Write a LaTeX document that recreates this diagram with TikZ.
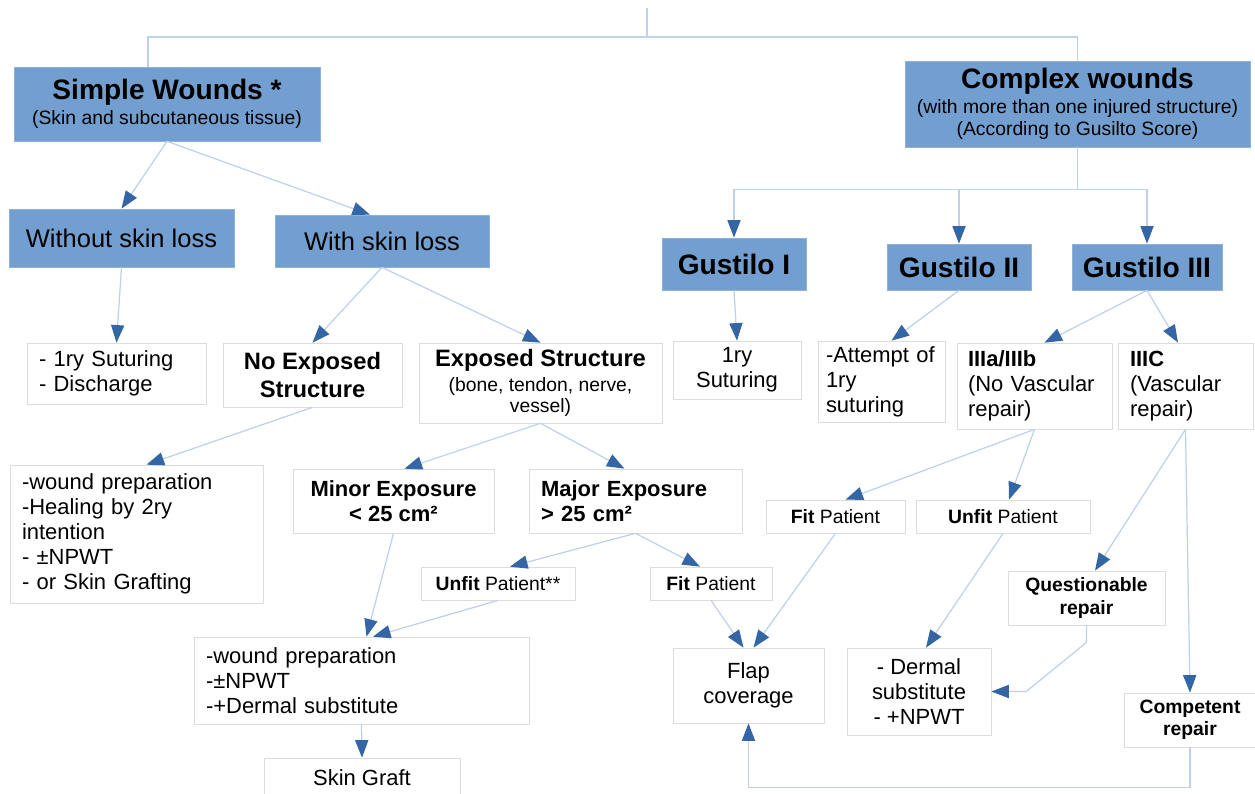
\documentclass[tikz,border=0pt]{standalone}
\usepackage{fontspec}
\setmainfont{Liberation Sans}
\usetikzlibrary{arrows.meta}
\definecolor{headblue}{HTML}{729FCF}
\definecolor{headedge}{HTML}{8DB1DB}
\definecolor{celledge}{HTML}{DCDCDC}
\definecolor{linkblue}{HTML}{BFD0EA}
\definecolor{tipblue}{HTML}{3465A4}
\newcommand{\smalltxt}[1]{{\mdseries\fontsize{11}{13}\selectfont #1}}

\begin{document}
\begin{tikzpicture}[
    x=0.02cm, y=-0.02cm,
    head/.style={draw=headedge, fill=headblue, inner sep=0pt, align=center, font=\fontsize{16}{16}\selectfont\bfseries},
    branch/.style={draw=headedge, fill=headblue, inner sep=0pt, align=center, font=\fontsize{14.5}{17}\selectfont},
    cell/.style={draw=celledge, fill=white, inner sep=0pt, align=center, font=\fontsize{12.5}{14.3}\selectfont},
    lcell/.style={cell, inner xsep=0.24cm, align=left},
    tag/.style={cell, font=\fontsize{11}{12.7}\selectfont},
    link/.style={draw=linkblue, line width=0.7pt},
    arrow/.style={link, -{Triangle[length=10pt, width=7.5pt, color=tipblue]}}
]
\useasboundingbox (0,0) rectangle (1255,794);

% simple wounds side
\node[head, minimum width=6.12cm, minimum height=1.48cm] (simple) at (167,104) {Simple Wounds *\\[-1.5pt]\smalltxt{(Skin and subcutaneous tissue)}};
\node[branch, minimum width=4.5cm, minimum height=1.16cm] (without) at (121.5,238) {Without skin loss};
\node[branch, minimum width=4.28cm, minimum height=1.04cm] (withloss) at (382,241) {With skin loss};
\node[lcell, text width=3.10cm, minimum height=1.22cm] (suture) at (116.5,373.5) {- 1ry Suturing\\- Discharge};
\node[cell, font=\fontsize{13.5}{15.5}\selectfont\bfseries, minimum width=3.58cm, minimum height=1.28cm] (noexp) at (312.5,375) {No Exposed\\Structure};
\node[cell, minimum width=4.86cm, minimum height=1.6cm] (exp) at (540.5,383) {{\bfseries\fontsize{13.5}{15.5}\selectfont Exposed Structure}\\\smalltxt{(bone, tendon, nerve,}\\[-2pt]\smalltxt{vessel)}};
\node[lcell, text width=4.58cm, minimum height=2.76cm] (prepA) at (136.5,534) {-wound preparation\\-Healing by 2ry\\intention\\- ±NPWT\\- or Skin Grafting};
\node[cell, font=\fontsize{12.5}{14.3}\selectfont\bfseries, minimum width=4.02cm, minimum height=1.28cm] (minor) at (393.5,501) {Minor Exposure\\< 25 cm²};
\node[lcell, font=\fontsize{12.5}{14.3}\selectfont\bfseries, text width=3.78cm, minimum height=1.28cm] (major) at (635.5,501) {Major Exposure\\> 25 cm²};
\node[tag, minimum width=3.08cm, minimum height=0.66cm] (unfitA) at (498,583.5) {\textbf{Unfit} Patient**};
\node[tag, minimum width=2.44cm, minimum height=0.66cm] (fitA) at (711,583.5) {\textbf{Fit} Patient};
\node[lcell, text width=6.22cm, minimum height=1.74cm] (prepB) at (361.5,680.5) {-wound preparation\\-±NPWT\\-+Dermal substitute};
\node[cell, minimum width=3.92cm, minimum height=0.8cm] (graft) at (362,778) {Skin Graft};

% complex wounds side
\node[head, minimum width=6.9cm, minimum height=1.72cm] (complex) at (1077.5,104) {Complex wounds\\[-1.5pt]\smalltxt{(with more than one injured structure)}\\[-3.5pt]\smalltxt{(According to Gusilto Score)}};
\node[head, minimum width=2.88cm, minimum height=1.04cm] (gusI) at (734,264) {Gustilo I};
\node[head, minimum width=2.88cm, minimum height=0.92cm] (gusII) at (959,267) {Gustilo II};
\node[head, minimum width=3.0cm, minimum height=0.92cm] (gusIII) at (1147,267) {Gustilo III};
\node[cell, minimum width=2.56cm, minimum height=1.16cm] (suture2) at (737,370) {1ry\\Suturing};
\node[lcell, inner xsep=0.16cm, text width=2.22cm, minimum height=1.62cm] (attempt) at (881.5,381.5) {-Attempt of\\1ry\\suturing};
\node[lcell, inner xsep=0.22cm, text width=2.66cm, minimum height=1.72cm] (threeab) at (1034.5,386) {\textbf{IIIa/IIIb}\\(No Vascular\\repair)};
\node[lcell, text width=2.22cm, minimum height=1.72cm] (threec) at (1185.5,386) {\textbf{IIIC}\\(Vascular\\repair)};
\node[tag, minimum width=2.78cm, minimum height=0.66cm] (fitB) at (835.5,516.5) {\textbf{Fit} Patient};
\node[tag, minimum width=3.48cm, minimum height=0.66cm] (unfitB) at (1003,516.5) {\textbf{Unfit} Patient};
\node[tag, font=\fontsize{11}{12.7}\selectfont\bfseries, minimum width=3.14cm, minimum height=1.08cm] (question) at (1086.5,598) {Questionable\\repair};
\node[tag, font=\fontsize{11}{12.7}\selectfont\bfseries, minimum width=2.64cm, minimum height=1.08cm] (competent) at (1190,720) {Competent\\repair};
\node[cell, minimum width=3.02cm, minimum height=1.5cm] (flap) at (748.5,685.5) {Flap\\coverage};
\node[cell, minimum width=2.88cm, minimum height=1.74cm] (dermal) at (919,691.5) {- Dermal\\substitute\\- +NPWT};

% top split
\coordinate (root) at (647,8);
\coordinate (split) at (647,37);
\draw[link] (root) -- (split);
\draw[link] ([xshift=-0.38cm]simple.north) |- (split) -| (complex.north);

% simple branch connectors
\draw[arrow] (simple.south) -- (without.north);
\draw[arrow] (simple.south) -- ([xshift=-0.24cm]withloss.north);
\draw[arrow] (without.south) -- (suture.north);
\draw[arrow] (withloss.south) -- (noexp.north);
\draw[arrow] (withloss.south) -- (exp.north);
\draw[arrow] (noexp.south) -- ([xshift=0.2cm]prepA.north);
\draw[arrow] (exp.south) -- ([xshift=0.22cm]minor.north);
\draw[arrow] (exp.south) -- ([xshift=-0.22cm]major.north);
\draw[arrow] (major.south) -- ([xshift=0.24cm]unfitA.north);
\draw[arrow] (major.south) -- ([xshift=-0.22cm]fitA.north);
\draw[arrow] (minor.south) -- ([xshift=0.1cm]prepB.north);
\draw[arrow] (unfitA.south) -- ([xshift=0.23cm]prepB.north);
\draw[arrow] (prepB.south) -- (graft.north);

% complex branch connectors
\draw[link] (complex.south) -- ++(0,42) coordinate (fork);
\draw[arrow] (fork) -| (gusI.north);
\draw[arrow] (fork) -| (gusIII.north);
\draw[arrow] (fork -| gusII.north) -- (gusII.north);
\draw[arrow] (gusI.south) -- (suture2.north);
\draw[arrow] (gusII.south) -- ([xshift=0.2cm]attempt.north);
\draw[arrow] (gusIII.south) -- ([xshift=0.2cm]threeab.north);
\draw[arrow] (gusIII.south) -- ([xshift=-0.15cm]threec.north);
\draw[arrow] (threeab.south) -- ([xshift=0.2cm]fitB.north);
\draw[arrow] (threeab.south) -- ([xshift=0.12cm]unfitB.north);
\draw[arrow] (threec.south) -- ([xshift=0.17cm]question.north);
\draw[arrow] (threec.south) -- (competent.north);
\draw[arrow] (fitA.south) -- ([xshift=-0.1cm]flap.north);
\draw[arrow] (fitB.south) -- ([xshift=0.1cm]flap.north);
\draw[arrow] (unfitB.south) -- ([xshift=0.14cm]dermal.north);
\draw[arrow] (question.south) -- ++(0,17) -- ([xshift=0.7cm]dermal.east) -- (dermal.east);
\draw[arrow] (competent.south) -- ++(0,40) -| (flap.south);
\end{tikzpicture}
\end{document}
